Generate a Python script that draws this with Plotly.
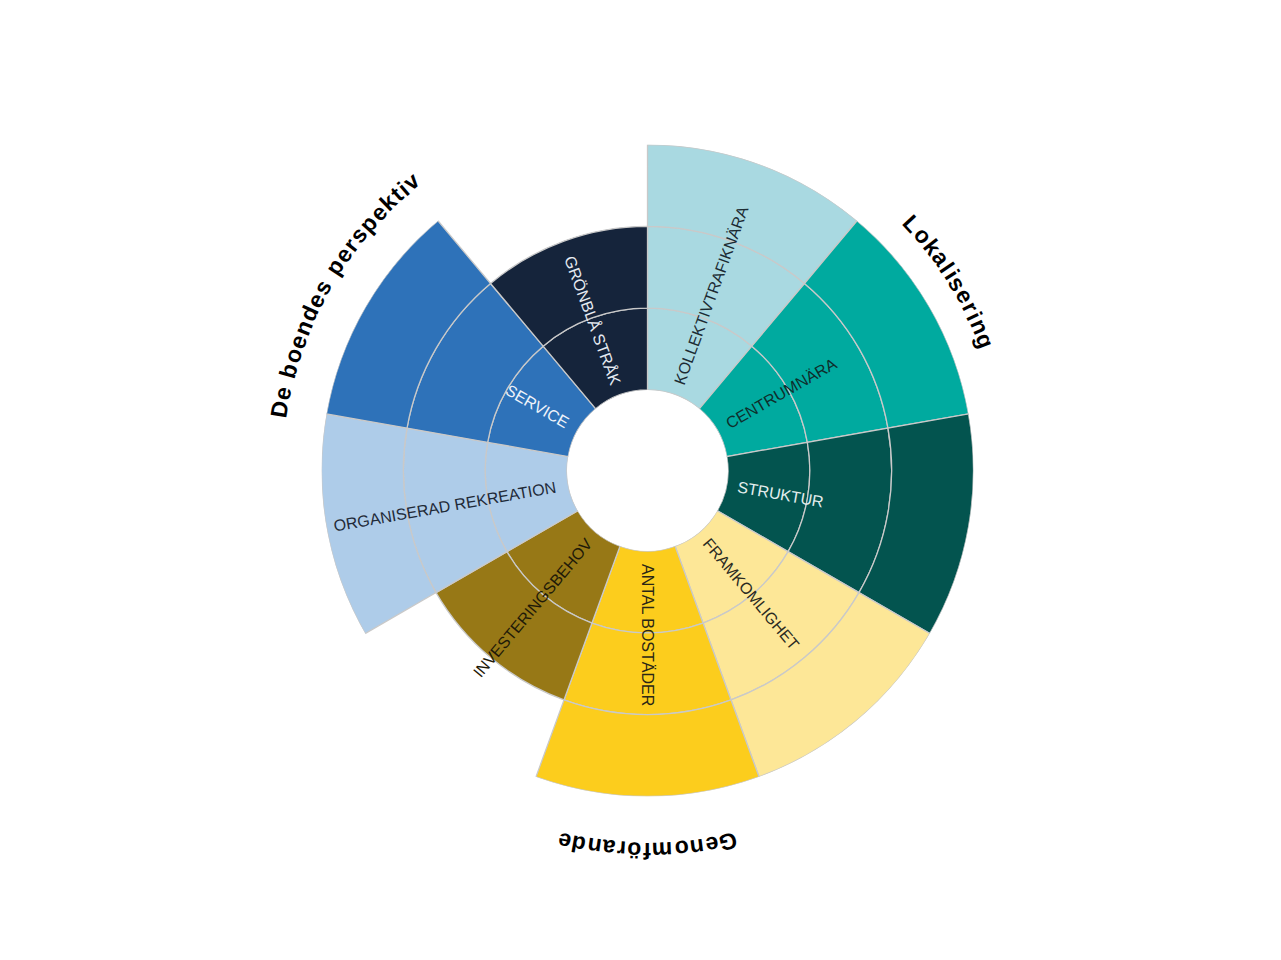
import math
import plotly.graph_objects as go

# ---------------- data ----------------
categories = ["KOLLEKTIVTRAFIKNÄRA", "CENTRUMNÄRA", "STRUKTUR", "FRAMKOMLIGHET",
              "ANTAL BOSTÄDER", "INVESTERINGSBEHOV", "ORGANISERAD REKREATION",
              "SERVICE", "GRÖNBLÅ STRÅK"]
scores = [3, 3, 3, 3, 3, 2, 3, 3, 2]
levels = [1, 2, 3]
groups = ["Lokalisering", "Genomförande", "De boendes perspektiv"]
group_of = [0, 0, 0, 1, 1, 1, 2, 2, 2]

# ---------------- styles ----------------
bar_colors = ["#a9d9e1", "#00aa9f", "#03544f", "#fde797", "#fccd1d",
              "#977816", "#aecce9", "#2e72b9", "#15243b"]
label_colors = ["#1c2b33", "#0f2e2c", "#e4eeee", "#2a2a22", "#2a2616",
                "#1f1a08", "#1f2a38", "#eef3fa", "#e6ebf2"]
outline = "#c9c9c9"

W, H = 1265, 944          # figure size (page has 8px body margin)
OFF = 8
CX, CY = 647.5 - OFF, 470.5 - OFF   # centre in figure px
OUTER = 326.0
HOLE = 80.5
RMAX = 3
LABEL_FS = 16
LABEL_START = 92
GROUP_FS = 23
GROUP_TRACK = 1.6
group_radii = [362, 380, 373]
group_angle_shift = [-2, 0, 0]

W_REG = {"A": 667, "B": 667, "C": 722, "D": 722, "E": 667, "F": 611, "G": 778, "H": 722,
         "I": 278, "K": 667, "L": 556, "M": 833, "N": 722, "O": 778, "P": 667, "R": 722,
         "S": 667, "T": 611, "U": 722, "V": 667, "Ä": 667, "Å": 667, "Ö": 778, " ": 278}
W_BOLD = {"D": 722, "G": 778, "L": 611, "a": 556, "b": 611, "d": 611, "e": 556, "f": 333,
          "g": 611, "i": 278, "k": 556, "l": 278, "m": 889, "n": 611, "o": 611, "ö": 611,
          "p": 611, "r": 389, "s": 556, "t": 333, "v": 556, " ": 278}


def to_paper(px, py):
    return px / W, 1 - py / H


def polar_px(theta_deg, rad):
    t = math.radians(theta_deg)
    return CX + rad * math.sin(t), CY - rad * math.cos(t)


n = len(categories)
step = 360 / n

fig = go.Figure()
for k in levels:
    fig.add_trace(go.Barpolar(
        theta=categories,
        r=[1 if s >= k else None for s in scores],
        marker=dict(color=bar_colors, line=dict(color=outline, width=1.3)),
        hoverinfo="skip",
        showlegend=False,
    ))

annotations = []
# category labels (radial)
for i, cat in enumerate(categories):
    theta = step / 2 + step * i
    L = sum(W_REG.get(c, 667) for c in cat) / 1000 * LABEL_FS
    rc = LABEL_START + L / 2
    px, py = polar_px(theta, rc)
    x, y = to_paper(px, py)
    ang = theta - 90 if theta <= 180 else theta - 270
    annotations.append(dict(
        x=x, y=y, xref="paper", yref="paper", text=cat, showarrow=False,
        xanchor="center", yanchor="middle", textangle=ang,
        font=dict(family="Liberation Sans", size=LABEL_FS, color=label_colors[i]),
    ))

# group labels (curved, char by char)
for g, name in enumerate(groups):
    idx = [i for i in range(n) if group_of[i] == g]
    centre = (min(idx) + max(idx) + 1) / 2 * step + group_angle_shift[g]
    R = group_radii[g]
    adv = [W_BOLD.get(c, 600) / 1000 * GROUP_FS + GROUP_TRACK for c in name]
    total = sum(adv) - GROUP_TRACK
    acc = 0
    for c, a in zip(name, adv):
        mid = acc + (a - GROUP_TRACK) / 2
        acc += a
        if c == " ":
            continue
        th = centre + math.degrees((mid - total / 2) / R)
        px, py = polar_px(th, R)
        x, y = to_paper(px, py)
        ta = ((th + 180) % 360) - 180
        annotations.append(dict(
            x=x, y=y, xref="paper", yref="paper", text="<b>" + c + "</b>", showarrow=False,
            xanchor="center", yanchor="middle", textangle=ta,
            font=dict(family="Liberation Sans", size=GROUP_FS, color="#000000"),
        ))

fig.update_layout(
    width=W, height=H,
    margin=dict(l=0, r=0, t=0, b=0),
    paper_bgcolor="white",
    plot_bgcolor="white",
    annotations=annotations,
    polar=dict(
        domain=dict(x=[(CX - OUTER) / W, (CX + OUTER) / W],
                    y=[1 - (CY + OUTER) / H, 1 - (CY - OUTER) / H]),
        hole=HOLE / OUTER,
        bgcolor="white",
        barmode="stack",
        bargap=0,
        radialaxis=dict(range=[0, RMAX], visible=False),
        angularaxis=dict(type="category", categoryorder="array", categoryarray=categories,
                         direction="clockwise", rotation=90 - step / 2, visible=False),
    ),
)

fig.write_html("out.html")
